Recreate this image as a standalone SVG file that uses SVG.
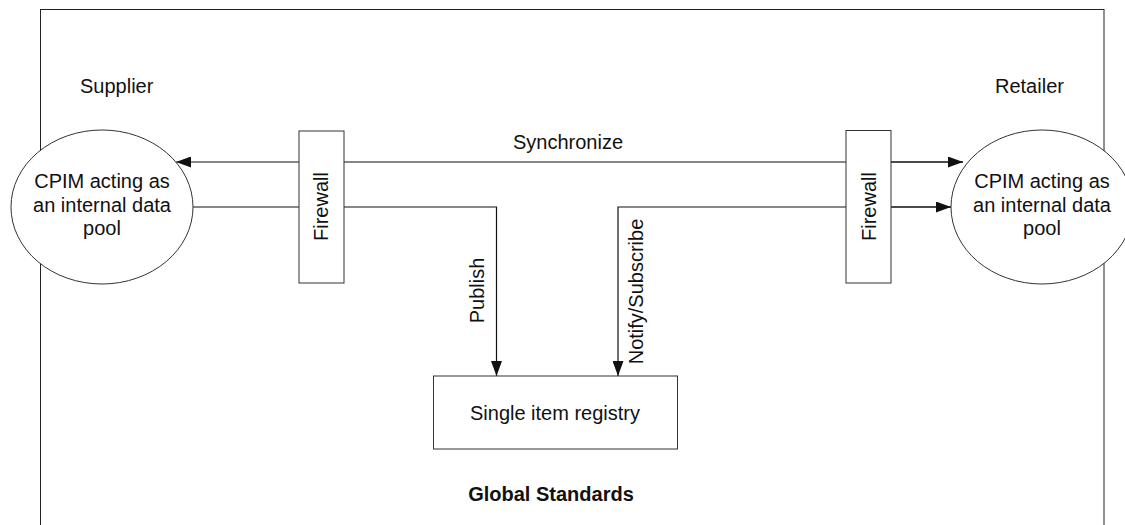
<svg xmlns="http://www.w3.org/2000/svg" width="1125" height="525" viewBox="0 0 1125 525">
<style>
text{font-family:"Liberation Sans",Arial,sans-serif;font-size:20px;fill:#111}
.c{text-anchor:middle}
.b{font-weight:bold}
.sh{fill:#fff;stroke:#333;stroke-width:1}
.ln{fill:none;stroke:#111;stroke-width:1.2}
</style>
<defs>
<marker id="ah" markerUnits="userSpaceOnUse" markerWidth="15" markerHeight="11" refX="15" refY="5.5" orient="auto">
<path d="M0,0 L15,5.5 L0,11 z" fill="#111"/>
</marker>
</defs>
<rect x="40.5" y="9.5" width="1063.5" height="540" fill="#fff" stroke="#222" stroke-width="1"/>
<text x="80" y="93">Supplier</text>
<text x="995" y="93">Retailer</text>
<text class="c b" x="551" y="501">Global Standards</text>
<g id="connectors">
<line class="ln" x1="963" y1="162" x2="176" y2="162" marker-end="url(#ah)"/>
<line class="ln" x1="891" y1="162" x2="963" y2="162" marker-end="url(#ah)"/>
<polyline class="ln" points="193,207 496.5,207 496.5,376" marker-end="url(#ah)"/>
<polyline class="ln" points="951,207 618,207 618,376" marker-end="url(#ah)"/>
<line class="ln" x1="891" y1="207" x2="951" y2="207" marker-end="url(#ah)"/>
<text x="513" y="149">Synchronize</text>
<text class="c" transform="translate(483.5,290.5) rotate(-90)">Publish</text>
<text class="c" transform="translate(642.5,291.5) rotate(-90)">Notify/Subscribe</text>
</g>
<g id="supplier-pool">
<ellipse class="sh" cx="102" cy="207" rx="91" ry="77"/>
<text class="c" x="102" y="188">CPIM acting as</text>
<text class="c" x="102" y="212">an internal data</text>
<text class="c" x="102" y="235">pool</text>
</g>
<g id="supplier-firewall">
<rect class="sh" x="299" y="131" width="45" height="152"/>
<text class="c" transform="translate(328,206.5) rotate(-90)">Firewall</text>
</g>
<g id="retailer-firewall">
<rect class="sh" x="846" y="130.5" width="45" height="152.5"/>
<text class="c" transform="translate(876,206.5) rotate(-90)">Firewall</text>
</g>
<g id="retailer-pool">
<ellipse class="sh" cx="1042" cy="207" rx="91" ry="77"/>
<text class="c" x="1042" y="188">CPIM acting as</text>
<text class="c" x="1042" y="212">an internal data</text>
<text class="c" x="1042" y="235">pool</text>
</g>
<g id="registry">
<rect class="sh" x="433.5" y="376" width="244" height="73"/>
<text class="c" x="555" y="420">Single item registry</text>
</g>
</svg>
